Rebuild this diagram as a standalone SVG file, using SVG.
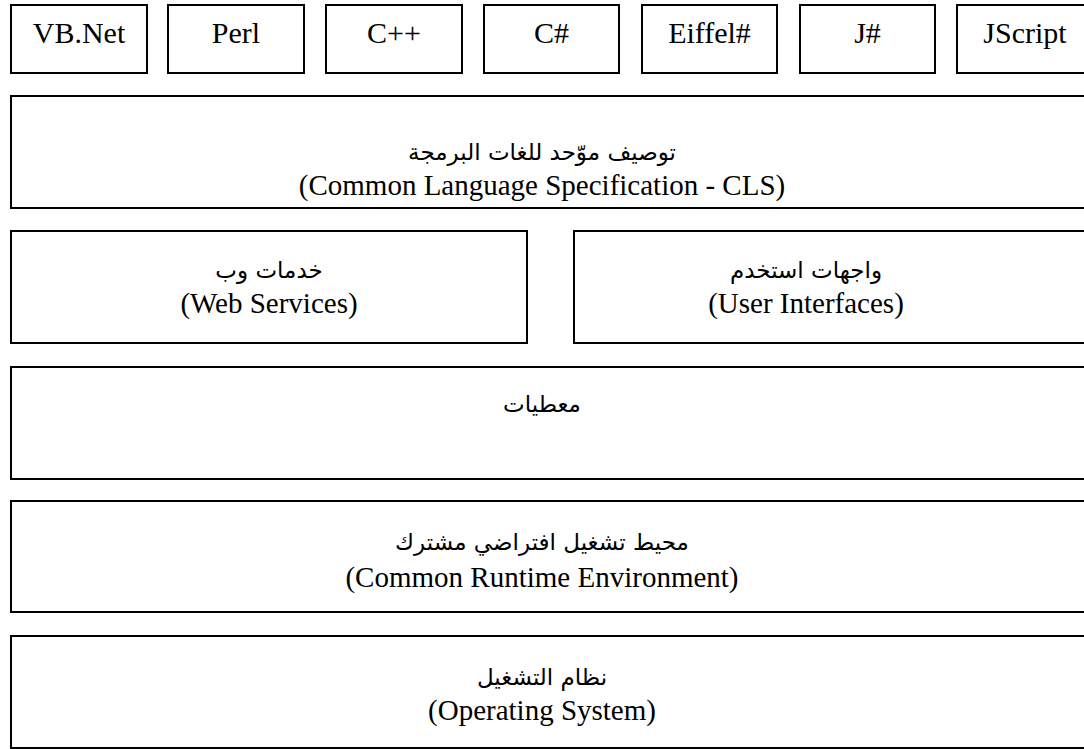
<svg xmlns="http://www.w3.org/2000/svg" width="1084" height="749" viewBox="0 0 1084 749">
<style>
.box{fill:#fff;stroke:#000;stroke-width:2}
.en{font-family:'Liberation Serif','Times New Roman',serif;font-size:29px;fill:#000;text-anchor:middle}
.top{font-family:'Liberation Serif','Times New Roman',serif;font-size:30px;fill:#000;text-anchor:middle}
.ar{font-family:'DejaVu Sans',sans-serif;font-size:23px;fill:#000;text-anchor:middle}
</style>
<rect width="1084" height="749" fill="#fff"/>
<g id="vbnet"><rect class="box" x="11" y="5" width="136" height="68"/><text class="top" x="79" y="43">VB.Net</text></g>
<g id="perl"><rect class="box" x="168" y="5" width="136" height="68"/><text class="top" x="236" y="43">Perl</text></g>
<g id="cpp"><rect class="box" x="326" y="5" width="136" height="68"/><text class="top" x="394" y="43">C++</text></g>
<g id="csharp"><rect class="box" x="484" y="5" width="135" height="68"/><text class="top" x="551.5" y="43">C#</text></g>
<g id="eiffel"><rect class="box" x="642" y="5" width="135" height="68"/><text class="top" x="709.5" y="43">Eiffel#</text></g>
<g id="jsharp"><rect class="box" x="800" y="5" width="135" height="68"/><text class="top" x="867.5" y="43">J#</text></g>
<g id="jscript"><rect class="box" x="957" y="5" width="136" height="68"/><text class="top" x="1025" y="43">JScript</text></g>
<g id="cls"><rect class="box" x="11" y="96" width="1085" height="112"/><text class="ar" x="542" y="160">توصيف موّحد للغات البرمجة</text><text class="en" x="542" y="195">(Common Language Specification - CLS)</text></g>
<g id="web"><rect class="box" x="11" y="231" width="516" height="112"/><text class="ar" x="269" y="278">خدمات وب</text><text class="en" x="269" y="313">(Web Services)</text></g>
<g id="ui"><rect class="box" x="574" y="231" width="520" height="112"/><text class="ar" x="806" y="278">واجهات استخدم</text><text class="en" x="806" y="313">(User Interfaces)</text></g>
<g id="data"><rect class="box" x="11" y="367" width="1085" height="112"/><text class="ar" x="542" y="412">معطيات</text></g>
<g id="cre"><rect class="box" x="11" y="501" width="1085" height="111"/><text class="ar" x="542" y="550">محيط تشغيل افتراضي مشترك</text><text class="en" x="542" y="587">(Common Runtime Environment)</text></g>
<g id="os"><rect class="box" x="11" y="636" width="1085" height="112"/><text class="ar" x="542" y="685">نظام التشغيل</text><text class="en" x="542" y="720">(Operating System)</text></g>
<g id="connectors"></g>
</svg>
